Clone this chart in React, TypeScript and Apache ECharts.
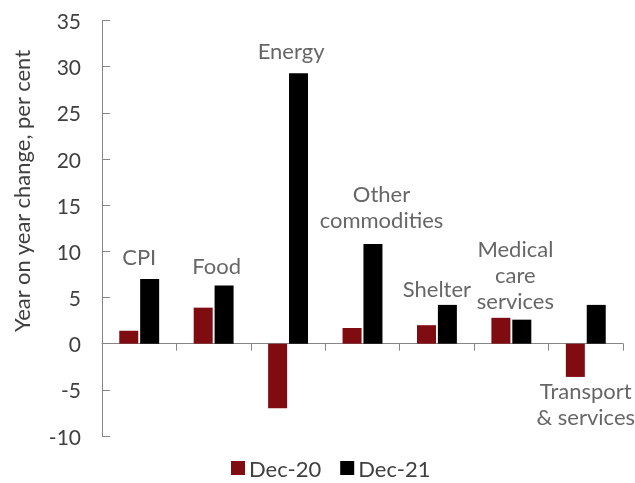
import React, { useEffect, useRef } from "react";
import * as echarts from "echarts";

const categories = [
  "CPI",
  "Food",
  "Energy",
  "Other commodities",
  "Shelter",
  "Medical care services",
  "Transport & services",
];
const dec20 = [1.4, 3.9, -7.0, 1.7, 2.0, 2.8, -3.6];
const dec21 = [7.0, 6.3, 29.3, 10.8, 4.2, 2.6, 4.2];
const labelLines = [
  "CPI",
  "Food",
  "Energy",
  "Other\ncommodities",
  "Shelter",
  "Medical\ncare\nservices",
  "Transport\n& services",
];
const labelValues = [9.4, 8.45, 31.7, 14.9, 5.96, 7.5, -6.5];
const yTicks = { min: -10, max: 35, interval: 5 };

const labelOffsetX = [0, 3, 3, 19, 0, 4, 0];

const FONT = "Lato, 'Noto Sans', sans-serif";
const TEXT = "#404040";
const AXIS = "#868686";
const RED = "#7f0c10";

export default function App() {
  const ref = useRef<HTMLDivElement>(null);
  useEffect(() => {
    if (!ref.current) return;
    const chart = echarts.init(ref.current, undefined, { renderer: "svg" });
    chart.setOption({
      animation: false,
      textStyle: { fontFamily: FONT },
      grid: { left: 102, right: 12, top: 20.5, bottom: 47, containLabel: false },
      legend: {
        data: ["Dec-20", "Dec-21"],
        left: 226,
        top: 452,
        itemWidth: 14,
        itemHeight: 14,
        itemGap: 19,
        icon: "rect",
        textStyle: { fontFamily: FONT, fontSize: 22, lineHeight: 22, color: TEXT, padding: [0, 0, 0, -1] },
      },
      graphic: [
        {
          type: "text",
          x: 21,
          y: 191,
          rotation: Math.PI / 2,
          style: {
            text: "Year on year change, per cent",
            fontFamily: FONT,
            fontSize: 22,
            fill: TEXT,
            textAlign: "center",
            textVerticalAlign: "middle",
          },
        },
      ],
      xAxis: {
        type: "category",
        data: categories,
        axisLine: { onZero: true, lineStyle: { color: AXIS, width: 1 } },
        axisTick: { show: true, interval: 0, length: 7, lineStyle: { color: AXIS } },
        axisLabel: { show: false },
        splitLine: { show: false },
      },
      yAxis: {
        type: "value",
        min: yTicks.min,
        max: yTicks.max,
        interval: yTicks.interval,
        axisLine: { show: true, lineStyle: { color: AXIS, width: 1 } },
        axisTick: { show: true, inside: true, length: 8, lineStyle: { color: AXIS } },
        axisLabel: { fontFamily: FONT, fontSize: 21, color: TEXT, margin: 21 },
        splitLine: { show: false },
      },
      series: [
        {
          name: "Dec-20",
          type: "bar",
          data: dec20,
          barWidth: 19,
          barGap: "10%",
          itemStyle: { color: RED },
        },
        {
          name: "Dec-21",
          type: "bar",
          data: dec21,
          barWidth: 19,
          itemStyle: { color: "#000000" },
        },
        {
          name: "labels",
          type: "scatter",
          symbolSize: 0,
          silent: true,
          data: categories.map((c, i) => ({
            value: [i, labelValues[i]],
            label: {
              show: true,
              position: "inside",
              formatter: labelLines[i],
              offset: [labelOffsetX[i], 0],
              fontFamily: FONT,
              fontSize: 22,
              lineHeight: 26,
              color: TEXT,
              align: "center",
              verticalAlign: "middle",
            },
          })),
        },
      ],
    });
    return () => chart.dispose();
  }, []);
  return (
    <div
      ref={ref}
      style={{ position: "fixed", left: 0, top: 0, width: 635, height: 483 }}
    />
  );
}
